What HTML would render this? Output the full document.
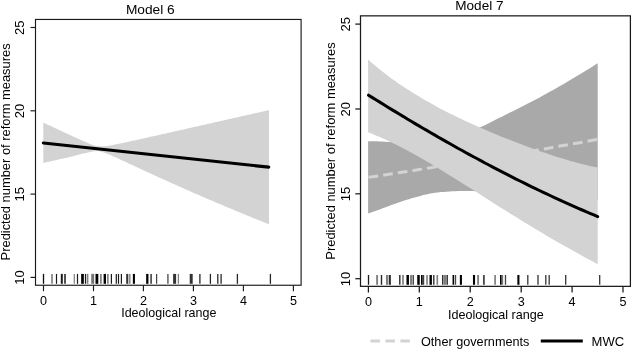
<!DOCTYPE html>
<html><head><meta charset="utf-8"><title>Predicted number of reform measures</title>
<style>html,body{margin:0;padding:0;background:#fff}svg{display:block;font-family:"Liberation Sans",sans-serif;fill:#000}svg{filter:grayscale(1)}</style>
</head><body>
<svg width="632" height="349" viewBox="0 0 632 349">
<rect width="632" height="349" fill="#fff"/>
<!-- left panel -->
<polygon points="43.3,122.6 45.2,123.5 47.1,124.4 49.0,125.2 50.9,126.1 52.8,127.0 54.7,127.9 56.6,128.8 58.5,129.7 60.4,130.6 62.3,131.4 64.2,132.3 66.1,133.2 68.0,134.1 69.9,135.0 71.7,135.8 73.6,136.7 75.5,137.6 77.4,138.4 79.3,139.3 81.2,140.1 83.1,141.0 85.0,141.8 86.9,142.6 88.8,143.4 90.7,144.2 92.6,144.9 94.5,145.5 96.4,146.0 98.3,146.3 100.2,146.5 102.1,146.5 104.0,146.3 105.9,146.1 107.8,145.9 109.7,145.5 111.6,145.2 113.5,144.8 115.4,144.5 117.3,144.1 119.2,143.7 121.1,143.3 123.0,142.9 124.9,142.5 126.8,142.1 128.6,141.7 130.5,141.3 132.4,140.8 134.3,140.4 136.2,140.0 138.1,139.6 140.0,139.2 141.9,138.7 143.8,138.3 145.7,137.9 147.6,137.5 149.5,137.1 151.4,136.6 153.3,136.2 155.2,135.8 157.1,135.4 159.0,134.9 160.9,134.5 162.8,134.1 164.7,133.7 166.6,133.2 168.5,132.8 170.4,132.4 172.3,132.0 174.2,131.5 176.1,131.1 178.0,130.7 179.9,130.3 181.8,129.8 183.7,129.4 185.5,129.0 187.4,128.5 189.3,128.1 191.2,127.7 193.1,127.3 195.0,126.8 196.9,126.4 198.8,126.0 200.7,125.6 202.6,125.1 204.5,124.7 206.4,124.3 208.3,123.8 210.2,123.4 212.1,123.0 214.0,122.6 215.9,122.1 217.8,121.7 219.7,121.3 221.6,120.8 223.5,120.4 225.4,120.0 227.3,119.6 229.2,119.1 231.1,118.7 233.0,118.3 234.9,117.8 236.8,117.4 238.7,117.0 240.6,116.6 242.4,116.1 244.3,115.7 246.2,115.3 248.1,114.8 250.0,114.4 251.9,114.0 253.8,113.6 255.7,113.1 257.6,112.7 259.5,112.3 261.4,111.8 263.3,111.4 265.2,111.0 267.1,110.6 269.0,110.1 269.0,224.4 267.1,223.6 265.2,222.8 263.3,222.1 261.4,221.3 259.5,220.5 257.6,219.7 255.7,219.0 253.8,218.2 251.9,217.4 250.0,216.6 248.1,215.9 246.2,215.1 244.3,214.3 242.4,213.5 240.6,212.7 238.7,212.0 236.8,211.2 234.9,210.4 233.0,209.6 231.1,208.8 229.2,208.0 227.3,207.2 225.4,206.4 223.5,205.6 221.6,204.8 219.7,204.0 217.8,203.2 215.9,202.4 214.0,201.6 212.1,200.8 210.2,200.0 208.3,199.2 206.4,198.4 204.5,197.6 202.6,196.8 200.7,195.9 198.8,195.1 196.9,194.3 195.0,193.5 193.1,192.7 191.2,191.8 189.3,191.0 187.4,190.2 185.5,189.3 183.7,188.5 181.8,187.6 179.9,186.8 178.0,186.0 176.1,185.1 174.2,184.3 172.3,183.4 170.4,182.6 168.5,181.7 166.6,180.8 164.7,180.0 162.8,179.1 160.9,178.3 159.0,177.4 157.1,176.5 155.2,175.7 153.3,174.8 151.4,173.9 149.5,173.0 147.6,172.2 145.7,171.3 143.8,170.4 141.9,169.5 140.0,168.7 138.1,167.8 136.2,166.9 134.3,166.0 132.4,165.1 130.5,164.2 128.6,163.4 126.8,162.5 124.9,161.6 123.0,160.7 121.1,159.9 119.2,159.0 117.3,158.1 115.4,157.3 113.5,156.4 111.6,155.6 109.7,154.8 107.8,154.0 105.9,153.2 104.0,152.5 102.1,151.9 100.2,151.4 98.3,151.1 96.4,151.1 94.5,151.3 92.6,151.5 90.7,151.9 88.8,152.3 86.9,152.7 85.0,153.2 83.1,153.6 81.2,154.1 79.3,154.6 77.4,155.0 75.5,155.5 73.6,156.0 71.7,156.5 69.9,156.9 68.0,157.4 66.1,157.8 64.2,158.3 62.3,158.7 60.4,159.1 58.5,159.6 56.6,160.0 54.7,160.4 52.8,160.8 50.9,161.3 49.0,161.7 47.1,162.1 45.2,162.5 43.3,162.9" fill="#d3d3d3"/>
<path d="M43.4,143.0 L268.7,167.1" stroke="#000" stroke-width="3.2" stroke-linecap="round" fill="none"/>
<line x1="43.5" x2="43.5" y1="273.9" y2="283.8" stroke="#000" stroke-width="1.3" stroke-opacity="0.95"/>
<line x1="52.0" x2="52.0" y1="273.9" y2="283.8" stroke="#000" stroke-width="1.5" stroke-opacity="0.55"/>
<line x1="56.5" x2="56.5" y1="273.9" y2="283.8" stroke="#000" stroke-width="1.2" stroke-opacity="0.9"/>
<line x1="61.8" x2="61.8" y1="273.9" y2="283.8" stroke="#000" stroke-width="2.0" stroke-opacity="0.9"/>
<line x1="65.0" x2="65.0" y1="273.9" y2="283.8" stroke="#000" stroke-width="1.8" stroke-opacity="0.75"/>
<line x1="74.3" x2="74.3" y1="273.9" y2="283.8" stroke="#000" stroke-width="1.2" stroke-opacity="0.5"/>
<line x1="77.5" x2="77.5" y1="273.9" y2="283.8" stroke="#000" stroke-width="1.2" stroke-opacity="0.9"/>
<line x1="82.5" x2="82.5" y1="273.9" y2="283.8" stroke="#000" stroke-width="2.7" stroke-opacity="1"/>
<line x1="85.5" x2="85.5" y1="273.9" y2="283.8" stroke="#000" stroke-width="1.2" stroke-opacity="0.9"/>
<line x1="87.6" x2="87.6" y1="273.9" y2="283.8" stroke="#000" stroke-width="1.6" stroke-opacity="0.5"/>
<line x1="92.7" x2="92.7" y1="273.9" y2="283.8" stroke="#000" stroke-width="2.9" stroke-opacity="0.55"/>
<line x1="96.9" x2="96.9" y1="273.9" y2="283.8" stroke="#000" stroke-width="2.8" stroke-opacity="1"/>
<line x1="100.9" x2="100.9" y1="273.9" y2="283.8" stroke="#000" stroke-width="1.7" stroke-opacity="0.5"/>
<line x1="104.8" x2="104.8" y1="273.9" y2="283.8" stroke="#000" stroke-width="2.4" stroke-opacity="1"/>
<line x1="107.9" x2="107.9" y1="273.9" y2="283.8" stroke="#000" stroke-width="1.5" stroke-opacity="0.55"/>
<line x1="111.4" x2="111.4" y1="273.9" y2="283.8" stroke="#000" stroke-width="1.2" stroke-opacity="0.9"/>
<line x1="116.3" x2="116.3" y1="273.9" y2="283.8" stroke="#000" stroke-width="1.2" stroke-opacity="0.9"/>
<line x1="118.5" x2="118.5" y1="273.9" y2="283.8" stroke="#000" stroke-width="1.2" stroke-opacity="0.9"/>
<line x1="121.4" x2="121.4" y1="273.9" y2="283.8" stroke="#000" stroke-width="1.2" stroke-opacity="0.9"/>
<line x1="127.2" x2="127.2" y1="273.9" y2="283.8" stroke="#000" stroke-width="2.0" stroke-opacity="0.8"/>
<line x1="129.7" x2="129.7" y1="273.9" y2="283.8" stroke="#000" stroke-width="1.8" stroke-opacity="0.45"/>
<line x1="133.9" x2="133.9" y1="273.9" y2="283.8" stroke="#000" stroke-width="2.1" stroke-opacity="1"/>
<line x1="147.3" x2="147.3" y1="273.9" y2="283.8" stroke="#000" stroke-width="2.3" stroke-opacity="1"/>
<line x1="151.1" x2="151.1" y1="273.9" y2="283.8" stroke="#000" stroke-width="1.6" stroke-opacity="0.75"/>
<line x1="156.6" x2="156.6" y1="273.9" y2="283.8" stroke="#000" stroke-width="1.2" stroke-opacity="0.75"/>
<line x1="167.9" x2="167.9" y1="273.9" y2="283.8" stroke="#000" stroke-width="1.7" stroke-opacity="0.55"/>
<line x1="174.6" x2="174.6" y1="273.9" y2="283.8" stroke="#000" stroke-width="3.0" stroke-opacity="0.8"/>
<line x1="178.4" x2="178.4" y1="273.9" y2="283.8" stroke="#000" stroke-width="1.3" stroke-opacity="0.5"/>
<line x1="191.2" x2="191.2" y1="273.9" y2="283.8" stroke="#000" stroke-width="3.0" stroke-opacity="0.8"/>
<line x1="199.9" x2="199.9" y1="273.9" y2="283.8" stroke="#000" stroke-width="1.3" stroke-opacity="0.85"/>
<line x1="210.4" x2="210.4" y1="273.9" y2="283.8" stroke="#000" stroke-width="1.3" stroke-opacity="0.85"/>
<line x1="217.8" x2="217.8" y1="273.9" y2="283.8" stroke="#000" stroke-width="1.3" stroke-opacity="0.85"/>
<line x1="221.1" x2="221.1" y1="273.9" y2="283.8" stroke="#000" stroke-width="1.3" stroke-opacity="0.85"/>
<line x1="237.4" x2="237.4" y1="273.9" y2="283.8" stroke="#000" stroke-width="1.3" stroke-opacity="0.85"/>
<line x1="270.4" x2="270.4" y1="273.9" y2="283.8" stroke="#000" stroke-width="1.3" stroke-opacity="0.85"/>
<rect x="35.5" y="19.45" width="265.6" height="265.8" fill="none" stroke="#1a1a1a" stroke-width="1.15"/>
<line x1="30.5" x2="35.5" y1="277.4" y2="277.4" stroke="#1a1a1a" stroke-width="1.15"/>
<text transform="translate(24.4,277.6) rotate(-90)" text-anchor="middle" font-size="13">10</text>
<line x1="30.5" x2="35.5" y1="194.1" y2="194.1" stroke="#1a1a1a" stroke-width="1.15"/>
<text transform="translate(24.4,194.3) rotate(-90)" text-anchor="middle" font-size="13">15</text>
<line x1="30.5" x2="35.5" y1="110.8" y2="110.8" stroke="#1a1a1a" stroke-width="1.15"/>
<text transform="translate(24.4,111.0) rotate(-90)" text-anchor="middle" font-size="13">20</text>
<line x1="30.5" x2="35.5" y1="27.5" y2="27.5" stroke="#1a1a1a" stroke-width="1.15"/>
<text transform="translate(24.4,27.7) rotate(-90)" text-anchor="middle" font-size="13">25</text>
<line x1="43.5" x2="43.5" y1="285.2" y2="291.2" stroke="#1a1a1a" stroke-width="1.15"/>
<text x="43.5" y="305.2" text-anchor="middle" font-size="12.6">0</text>
<line x1="93.5" x2="93.5" y1="285.2" y2="291.2" stroke="#1a1a1a" stroke-width="1.15"/>
<text x="93.5" y="305.2" text-anchor="middle" font-size="12.6">1</text>
<line x1="143.4" x2="143.4" y1="285.2" y2="291.2" stroke="#1a1a1a" stroke-width="1.15"/>
<text x="143.4" y="305.2" text-anchor="middle" font-size="12.6">2</text>
<line x1="193.4" x2="193.4" y1="285.2" y2="291.2" stroke="#1a1a1a" stroke-width="1.15"/>
<text x="193.4" y="305.2" text-anchor="middle" font-size="12.6">3</text>
<line x1="243.4" x2="243.4" y1="285.2" y2="291.2" stroke="#1a1a1a" stroke-width="1.15"/>
<text x="243.4" y="305.2" text-anchor="middle" font-size="12.6">4</text>
<line x1="293.4" x2="293.4" y1="285.2" y2="291.2" stroke="#1a1a1a" stroke-width="1.15"/>
<text x="293.4" y="305.2" text-anchor="middle" font-size="12.6">5</text>
<text x="125.9" y="13.8" font-size="13.2" textLength="48.8" lengthAdjust="spacingAndGlyphs">Model 6</text>
<text x="121.2" y="317.4" font-size="12.6" textLength="95.2" lengthAdjust="spacingAndGlyphs">Ideological range</text>
<text transform="translate(10.1,260.4) rotate(-90)" font-size="12.6" textLength="217.0" lengthAdjust="spacingAndGlyphs">Predicted number of reform measures</text>
<!-- right panel -->
<polygon points="368.1,141.3 371.0,141.3 373.9,141.3 376.8,141.3 379.7,141.4 382.6,141.5 385.5,141.7 388.4,141.9 391.4,142.0 394.3,142.1 397.2,142.1 400.1,142.1 403.0,142.0 405.9,141.8 408.8,141.6 411.7,141.4 414.6,141.1 417.5,140.8 420.4,140.4 423.3,140.1 426.2,139.6 429.1,139.2 432.0,138.7 434.9,138.3 437.9,137.8 440.8,137.2 443.7,136.7 446.6,136.2 449.5,135.6 452.4,135.0 455.3,134.5 458.2,133.9 461.1,133.2 464.0,132.5 466.9,131.8 469.8,131.0 472.7,130.1 475.6,129.1 478.5,128.0 481.4,126.8 484.4,125.5 487.3,124.1 490.2,122.6 493.1,121.1 496.0,119.6 498.9,118.1 501.8,116.7 504.7,115.2 507.6,113.7 510.5,112.3 513.4,110.9 516.3,109.4 519.2,107.9 522.1,106.5 525.0,105.0 527.9,103.5 530.9,102.0 533.8,100.5 536.7,98.9 539.6,97.4 542.5,95.8 545.4,94.2 548.3,92.6 551.2,91.0 554.1,89.4 557.0,87.8 559.9,86.1 562.8,84.4 565.7,82.8 568.6,81.0 571.5,79.3 574.4,77.6 577.4,75.8 580.3,74.1 583.2,72.3 586.1,70.5 589.0,68.7 591.9,66.9 594.8,65.1 597.7,63.3 597.7,200.6 594.8,200.4 591.9,200.1 589.0,199.9 586.1,199.6 583.2,199.4 580.3,199.2 577.4,198.9 574.4,198.7 571.5,198.5 568.6,198.2 565.7,198.0 562.8,197.8 559.9,197.5 557.0,197.3 554.1,197.1 551.2,196.8 548.3,196.6 545.4,196.4 542.5,196.2 539.6,196.0 536.7,195.8 533.8,195.5 530.9,195.3 527.9,195.1 525.0,194.9 522.1,194.7 519.2,194.5 516.3,194.3 513.4,194.1 510.5,193.8 507.6,193.6 504.7,193.4 501.8,193.1 498.9,192.9 496.0,192.7 493.1,192.4 490.2,192.2 487.3,191.9 484.4,191.7 481.4,191.5 478.5,191.3 475.6,191.2 472.7,191.1 469.8,191.0 466.9,190.9 464.0,190.9 461.1,191.0 458.2,191.1 455.3,191.2 452.4,191.3 449.5,191.5 446.6,191.7 443.7,191.9 440.8,192.1 437.9,192.5 434.9,192.8 432.0,193.3 429.1,193.8 426.2,194.5 423.3,195.1 420.4,195.9 417.5,196.7 414.6,197.5 411.7,198.3 408.8,199.2 405.9,200.1 403.0,201.1 400.1,202.0 397.2,203.0 394.3,204.1 391.4,205.1 388.4,206.2 385.5,207.2 382.6,208.3 379.7,209.4 376.8,210.4 373.9,211.5 371.0,212.6 368.1,213.6" fill="#a9a9a9"/>
<path d="M368.5,177.3 L372.4,176.8 L376.3,176.2 L380.2,175.6 L384.0,175.0 L387.9,174.4 L391.8,173.8 L395.7,173.2 L399.6,172.6 L403.5,172.0 L407.3,171.4 L411.2,170.8 L415.1,170.2 L419.0,169.6 L422.9,169.0 L426.8,168.4 L430.7,167.7 L434.5,167.1 L438.4,166.5 L442.3,165.9 L446.2,165.3 L450.1,164.6 L454.0,164.0 L457.8,163.4 L461.7,162.8 L465.6,162.1 L469.5,161.5 L473.4,160.9 L477.3,160.2 L481.2,159.6 L485.0,158.9 L488.9,158.3 L492.8,157.6 L496.7,157.0 L500.6,156.3 L504.5,155.7 L508.4,155.0 L512.2,154.4 L516.1,153.7 L520.0,153.0 L523.9,152.4 L527.8,151.7 L531.7,151.0 L535.5,150.4 L539.4,149.7 L543.3,149.0 L547.2,148.4 L551.1,147.7 L555.0,147.0 L558.9,146.3 L562.7,145.6 L566.6,144.9 L570.5,144.3 L574.4,143.6 L578.3,142.9 L582.2,142.2 L586.0,141.5 L589.9,140.8 L593.8,140.1 L597.7,139.4" stroke="#d3d3d3" stroke-width="3" stroke-dasharray="9.7 5.1" fill="none"/>
<polygon points="368.1,59.6 372.0,63.0 375.9,66.3 379.8,69.4 383.7,72.5 387.6,75.5 391.4,78.4 395.3,81.1 399.2,83.9 403.1,86.5 407.0,89.1 410.9,91.6 414.8,94.0 418.7,96.3 422.6,98.7 426.5,100.9 430.4,103.1 434.3,105.3 438.1,107.4 442.0,109.4 445.9,111.4 449.8,113.4 453.7,115.3 457.6,117.2 461.5,119.1 465.4,120.9 469.3,122.7 473.2,124.5 477.1,126.2 481.0,127.9 484.8,129.6 488.7,131.3 492.6,132.9 496.5,134.6 500.4,136.2 504.3,137.7 508.2,139.3 512.1,140.8 516.0,142.3 519.9,143.8 523.8,145.3 527.7,146.7 531.5,148.2 535.4,149.6 539.3,150.9 543.2,152.3 547.1,153.6 551.0,154.9 554.9,156.2 558.8,157.4 562.7,158.6 566.6,159.8 570.5,160.9 574.4,162.0 578.2,163.0 582.1,164.1 586.0,165.0 589.9,165.9 593.8,166.8 597.7,167.6 597.7,264.2 593.8,262.1 589.9,260.0 586.0,257.9 582.1,255.8 578.2,253.6 574.4,251.5 570.5,249.3 566.6,247.1 562.7,244.9 558.8,242.7 554.9,240.4 551.0,238.2 547.1,235.9 543.2,233.6 539.3,231.3 535.4,228.9 531.5,226.6 527.7,224.2 523.8,221.9 519.9,219.5 516.0,217.1 512.1,214.7 508.2,212.2 504.3,209.8 500.4,207.4 496.5,204.9 492.6,202.5 488.7,200.0 484.8,197.5 481.0,195.1 477.1,192.6 473.2,190.1 469.3,187.6 465.4,185.2 461.5,182.7 457.6,180.3 453.7,177.8 449.8,175.4 445.9,173.0 442.0,170.6 438.1,168.3 434.3,165.9 430.4,163.6 426.5,161.3 422.6,159.0 418.7,156.8 414.8,154.6 410.9,152.4 407.0,150.3 403.1,148.3 399.2,146.2 395.3,144.3 391.4,142.4 387.6,140.5 383.7,138.7 379.8,137.0 375.9,135.4 372.0,133.8 368.1,132.3" fill="#d3d3d3"/>
<path d="M368.5,95.2 L372.4,97.6 L376.3,100.0 L380.2,102.4 L384.0,104.8 L387.9,107.2 L391.8,109.6 L395.7,111.9 L399.6,114.3 L403.5,116.6 L407.3,119.0 L411.2,121.3 L415.1,123.6 L419.0,125.9 L422.9,128.2 L426.8,130.4 L430.7,132.7 L434.5,134.9 L438.4,137.2 L442.3,139.4 L446.2,141.6 L450.1,143.8 L454.0,146.0 L457.8,148.2 L461.7,150.3 L465.6,152.5 L469.5,154.6 L473.4,156.7 L477.3,158.8 L481.2,160.9 L485.0,163.0 L488.9,165.0 L492.8,167.1 L496.7,169.1 L500.6,171.1 L504.5,173.1 L508.4,175.1 L512.2,177.1 L516.1,179.1 L520.0,181.0 L523.9,182.9 L527.8,184.9 L531.7,186.8 L535.5,188.6 L539.4,190.5 L543.3,192.4 L547.2,194.2 L551.1,196.0 L555.0,197.8 L558.9,199.6 L562.7,201.4 L566.6,203.1 L570.5,204.9 L574.4,206.6 L578.3,208.3 L582.2,210.0 L586.0,211.7 L589.9,213.3 L593.8,214.9 L597.7,216.6" stroke="#000" stroke-width="3.0" stroke-linecap="round" fill="none"/>
<line x1="368.5" x2="368.5" y1="275.0" y2="284.8" stroke="#000" stroke-width="1.3" stroke-opacity="0.9"/>
<line x1="377.1" x2="377.1" y1="275.0" y2="284.8" stroke="#000" stroke-width="1.9" stroke-opacity="0.5"/>
<line x1="381.5" x2="381.5" y1="275.0" y2="284.8" stroke="#000" stroke-width="1.4" stroke-opacity="0.85"/>
<line x1="387.0" x2="387.0" y1="275.0" y2="284.8" stroke="#000" stroke-width="2.1" stroke-opacity="0.5"/>
<line x1="389.8" x2="389.8" y1="275.0" y2="284.8" stroke="#000" stroke-width="2.1" stroke-opacity="0.85"/>
<line x1="399.8" x2="399.8" y1="275.0" y2="284.8" stroke="#000" stroke-width="1.4" stroke-opacity="0.85"/>
<line x1="403.0" x2="403.0" y1="275.0" y2="284.8" stroke="#000" stroke-width="1.7" stroke-opacity="0.5"/>
<line x1="407.7" x2="407.7" y1="275.0" y2="284.8" stroke="#000" stroke-width="2.5" stroke-opacity="1"/>
<line x1="411.2" x2="411.2" y1="275.0" y2="284.8" stroke="#000" stroke-width="2.3" stroke-opacity="0.5"/>
<line x1="413.3" x2="413.3" y1="275.0" y2="284.8" stroke="#000" stroke-width="1.1" stroke-opacity="0.85"/>
<line x1="418.5" x2="418.5" y1="275.0" y2="284.8" stroke="#000" stroke-width="2.5" stroke-opacity="1"/>
<line x1="421.8" x2="421.8" y1="275.0" y2="284.8" stroke="#000" stroke-width="1.6" stroke-opacity="1"/>
<line x1="423.4" x2="423.4" y1="275.0" y2="284.8" stroke="#000" stroke-width="1.6" stroke-opacity="0.75"/>
<line x1="427.0" x2="427.0" y1="275.0" y2="284.8" stroke="#000" stroke-width="1.6" stroke-opacity="0.5"/>
<line x1="430.7" x2="430.7" y1="275.0" y2="284.8" stroke="#000" stroke-width="2.4" stroke-opacity="1"/>
<line x1="433.8" x2="433.8" y1="275.0" y2="284.8" stroke="#000" stroke-width="1.4" stroke-opacity="0.8"/>
<line x1="437.3" x2="437.3" y1="275.0" y2="284.8" stroke="#000" stroke-width="1.6" stroke-opacity="0.5"/>
<line x1="442.7" x2="442.7" y1="275.0" y2="284.8" stroke="#000" stroke-width="1.3" stroke-opacity="0.85"/>
<line x1="444.9" x2="444.9" y1="275.0" y2="284.8" stroke="#000" stroke-width="2.5" stroke-opacity="0.5"/>
<line x1="447.2" x2="447.2" y1="275.0" y2="284.8" stroke="#000" stroke-width="1.4" stroke-opacity="0.85"/>
<line x1="453.4" x2="453.4" y1="275.0" y2="284.8" stroke="#000" stroke-width="1.7" stroke-opacity="1"/>
<line x1="455.6" x2="455.6" y1="275.0" y2="284.8" stroke="#000" stroke-width="1.1" stroke-opacity="0.75"/>
<line x1="460.9" x2="460.9" y1="275.0" y2="284.8" stroke="#000" stroke-width="2.1" stroke-opacity="1"/>
<line x1="474.0" x2="474.0" y1="275.0" y2="284.8" stroke="#000" stroke-width="2.1" stroke-opacity="1"/>
<line x1="478.1" x2="478.1" y1="275.0" y2="284.8" stroke="#000" stroke-width="1.9" stroke-opacity="0.5"/>
<line x1="483.9" x2="483.9" y1="275.0" y2="284.8" stroke="#000" stroke-width="1.9" stroke-opacity="0.7"/>
<line x1="495.1" x2="495.1" y1="275.0" y2="284.8" stroke="#000" stroke-width="1.7" stroke-opacity="0.5"/>
<line x1="500.8" x2="500.8" y1="275.0" y2="284.8" stroke="#000" stroke-width="1.6" stroke-opacity="1"/>
<line x1="502.4" x2="502.4" y1="275.0" y2="284.8" stroke="#000" stroke-width="1.5" stroke-opacity="0.55"/>
<line x1="505.5" x2="505.5" y1="275.0" y2="284.8" stroke="#000" stroke-width="1.3" stroke-opacity="0.75"/>
<line x1="518.4" x2="518.4" y1="275.0" y2="284.8" stroke="#000" stroke-width="2.1" stroke-opacity="1"/>
<line x1="527.8" x2="527.8" y1="275.0" y2="284.8" stroke="#000" stroke-width="1.3" stroke-opacity="0.8"/>
<line x1="538.0" x2="538.0" y1="275.0" y2="284.8" stroke="#000" stroke-width="1.3" stroke-opacity="0.8"/>
<line x1="545.8" x2="545.8" y1="275.0" y2="284.8" stroke="#000" stroke-width="1.3" stroke-opacity="0.8"/>
<line x1="549.2" x2="549.2" y1="275.0" y2="284.8" stroke="#000" stroke-width="1.3" stroke-opacity="0.8"/>
<line x1="565.7" x2="565.7" y1="275.0" y2="284.8" stroke="#000" stroke-width="1.3" stroke-opacity="0.8"/>
<line x1="599.7" x2="599.7" y1="275.0" y2="284.8" stroke="#000" stroke-width="1.3" stroke-opacity="0.8"/>
<rect x="360.5" y="15.85" width="269.9" height="270.5" fill="none" stroke="#1a1a1a" stroke-width="1.25"/>
<line x1="355.3" x2="360.5" y1="278.7" y2="278.7" stroke="#1a1a1a" stroke-width="1.25"/>
<text transform="translate(349.8,278.9) rotate(-90)" text-anchor="middle" font-size="13">10</text>
<line x1="355.3" x2="360.5" y1="193.8" y2="193.8" stroke="#1a1a1a" stroke-width="1.25"/>
<text transform="translate(349.8,194.0) rotate(-90)" text-anchor="middle" font-size="13">15</text>
<line x1="355.3" x2="360.5" y1="109.0" y2="109.0" stroke="#1a1a1a" stroke-width="1.25"/>
<text transform="translate(349.8,109.2) rotate(-90)" text-anchor="middle" font-size="13">20</text>
<line x1="355.3" x2="360.5" y1="24.1" y2="24.1" stroke="#1a1a1a" stroke-width="1.25"/>
<text transform="translate(349.8,24.3) rotate(-90)" text-anchor="middle" font-size="13">25</text>
<line x1="368.4" x2="368.4" y1="286.35" y2="292.55" stroke="#1a1a1a" stroke-width="1.25"/>
<text x="368.4" y="306.2" text-anchor="middle" font-size="12.6">0</text>
<line x1="419.3" x2="419.3" y1="286.35" y2="292.55" stroke="#1a1a1a" stroke-width="1.25"/>
<text x="419.3" y="306.2" text-anchor="middle" font-size="12.6">1</text>
<line x1="470.2" x2="470.2" y1="286.35" y2="292.55" stroke="#1a1a1a" stroke-width="1.25"/>
<text x="470.2" y="306.2" text-anchor="middle" font-size="12.6">2</text>
<line x1="521.2" x2="521.2" y1="286.35" y2="292.55" stroke="#1a1a1a" stroke-width="1.25"/>
<text x="521.2" y="306.2" text-anchor="middle" font-size="12.6">3</text>
<line x1="572.1" x2="572.1" y1="286.35" y2="292.55" stroke="#1a1a1a" stroke-width="1.25"/>
<text x="572.1" y="306.2" text-anchor="middle" font-size="12.6">4</text>
<line x1="623.0" x2="623.0" y1="286.35" y2="292.55" stroke="#1a1a1a" stroke-width="1.25"/>
<text x="623.0" y="306.2" text-anchor="middle" font-size="12.6">5</text>
<text x="455.3" y="10.2" font-size="13.2" textLength="48.2" lengthAdjust="spacingAndGlyphs">Model 7</text>
<text x="448.0" y="318.7" font-size="12.6" textLength="95.8" lengthAdjust="spacingAndGlyphs">Ideological range</text>
<text transform="translate(335.2,259.7) rotate(-90)" font-size="12.6" textLength="217.3" lengthAdjust="spacingAndGlyphs">Predicted number of reform measures</text>
<!-- legend -->
<path d="M370.4,341 H410" stroke="#d3d3d3" stroke-width="3" stroke-dasharray="9.5 5.5" fill="none"/>
<text x="421.0" y="345.5" font-size="12.6" textLength="108.4" lengthAdjust="spacingAndGlyphs">Other governments</text>
<path d="M540.8,341 H582.8" stroke="#000" stroke-width="3.2" fill="none"/>
<text x="591.6" y="345.5" font-size="12.6" textLength="32.6" lengthAdjust="spacingAndGlyphs">MWC</text>
</svg>
</body></html>
